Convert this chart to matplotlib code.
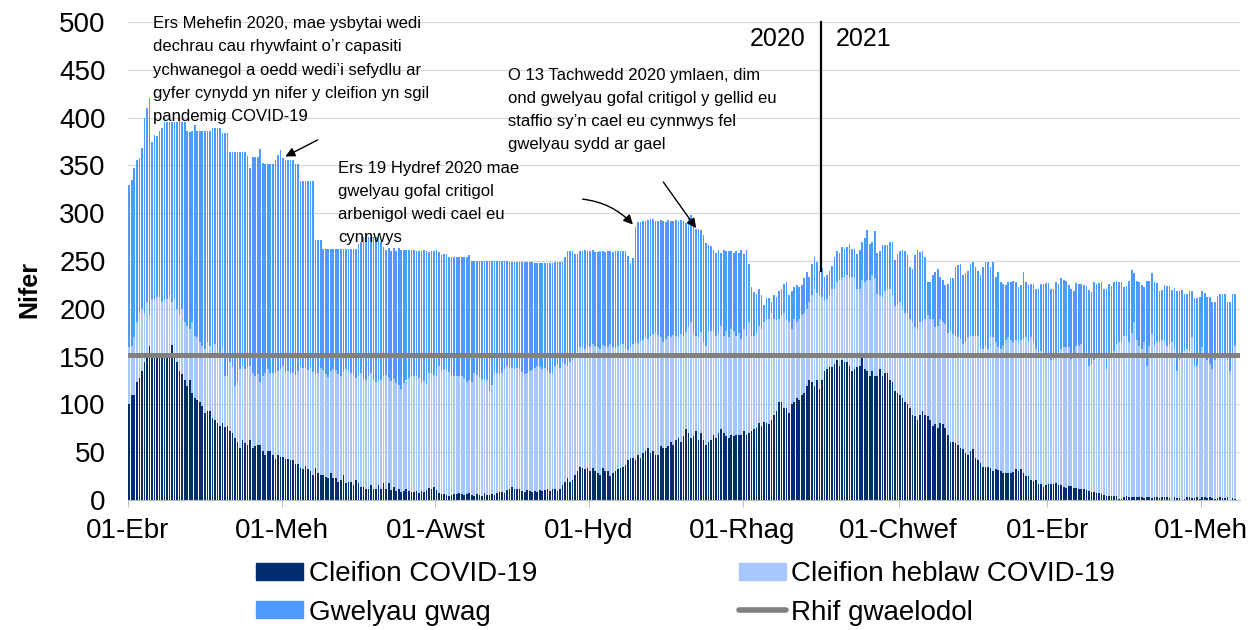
import numpy as np
import pandas as pd
import matplotlib
matplotlib.use("Agg")
import matplotlib.pyplot as plt
from matplotlib.lines import Line2D
from matplotlib.patches import Patch

plt.rcParams['font.family'] = ['Liberation Sans', 'DejaVu Sans']

# Daily values from 1 April 2020

# Cleifion COVID-19
covid = [
    100, 110, 110, 123, 128, 135, 144, 151, 161, 151, 152, 151, 151, 151, 151, 150, 154, 162, 151, 144,
    135, 132, 126, 119, 126, 112, 107, 105, 102, 98, 91, 93, 93, 86, 84, 81, 77, 81, 76, 77,
    72, 70, 65, 61, 54, 63, 60, 58, 63, 54, 56, 58, 58, 51, 47, 51,
    51, 47, 43, 47, 45, 45, 43, 43, 42, 42, 38, 38, 33, 32, 36, 32, 30, 26, 33, 28,
    26, 26, 24, 23, 28, 23, 23, 19, 21, 26, 18, 19, 19, 16, 21, 18, 14, 14, 12, 12,
    16, 11, 12, 16, 12, 18, 11, 18, 10, 14, 9, 11, 8, 9, 11, 9, 8,
    8, 9, 7, 9, 8, 10, 13, 12, 14, 10, 7, 6, 6, 5, 4, 5, 6, 6, 7, 6,
    5, 6, 7, 5, 4, 6, 5, 4, 7, 5, 5, 6, 5, 7, 8, 8, 7, 10, 12, 14,
    12, 11, 12, 9, 8, 10, 9, 8, 9, 8, 10, 9, 10, 11, 9, 12,
    12, 9, 12, 16, 19, 23, 19, 21, 26, 30, 35, 33, 32, 33, 30, 33, 30, 28, 26, 33,
    30, 30, 25, 28, 30, 32, 33, 35, 37, 42, 44, 44, 42, 47, 44, 49, 51, 54, 49, 51,
    47, 47, 56, 54, 54, 56, 61, 58, 63, 65, 61, 67, 74, 70, 65, 67, 72, 63,
    70, 63, 58, 61, 63, 68, 65, 70, 74, 70, 67, 65, 68, 67, 68, 68, 68, 72, 68, 70,
    72, 74, 75, 81, 77, 82, 81, 79, 84, 89, 93, 102, 103, 96, 96, 91, 100, 102, 107, 105,
    110, 112, 119, 126, 123, 119, 126, 116, 126, 135, 137, 139, 139, 142, 146, 140, 146, 144, 144,
    140, 135, 137, 139, 140, 149, 137, 135, 130, 135, 130, 130, 137, 130, 133, 133, 126, 123, 114, 112,
    110, 107, 103, 100, 96, 89, 88, 84, 89, 93, 89, 88, 84, 77, 79, 75, 81, 79, 75, 68,
    61, 61, 60, 58, 54, 53, 49, 47, 51, 53, 44, 42, 39, 35, 34, 35, 33, 30,
    32, 31, 30, 28, 28, 28, 28, 29, 32, 30, 32, 28, 25, 25, 21, 20, 21, 17, 17, 14,
    16, 17, 17, 17, 18, 16, 16, 14, 13, 15, 15, 13, 13, 12, 11, 12, 10, 9, 8, 8,
    7, 7, 6, 5, 4, 4, 4, 4, 4, 1, 1, 3, 4, 3, 3, 3, 3,
    3, 3, 2, 3, 3, 2, 3, 3, 2, 3, 3, 3, 2, 0, 3, 2, 2, 0, 1, 3,
    3, 2, 2, 3, 1, 3, 3, 2, 3, 2, 1, 2, 3, 2, 2, 3, 0, 2, 1,
]

# Cleifion COVID-19 + Cleifion heblaw COVID-19
occupied = [
    160, 161, 170, 186, 196, 200, 196, 207, 193, 210, 210, 212, 212, 207, 209, 210, 214, 207, 210, 200,
    193, 200, 186, 182, 179, 186, 172, 170, 165, 161, 158, 165, 161, 154, 163, 151, 154, 158, 130, 130,
    144, 139, 119, 123, 137, 140, 137, 139, 140, 133, 130, 132, 123, 130, 133, 137,
    133, 133, 133, 135, 137, 140, 133, 135, 133, 133, 131, 135, 140, 138, 138, 136, 138, 134, 131, 133,
    138, 136, 132, 129, 135, 137, 136, 132, 130, 134, 137, 136, 133, 132, 128, 130, 133, 127, 125, 130,
    133, 126, 123, 124, 126, 130, 131, 128, 124, 127, 122, 120, 116, 122, 125, 128, 130,
    130, 130, 128, 122, 124, 121, 133, 133, 131, 130, 140, 136, 137, 137, 134, 131, 130, 130, 130, 130,
    128, 123, 126, 123, 133, 131, 129, 127, 127, 125, 114, 120, 133, 133, 132, 133, 137, 140, 138, 138,
    137, 138, 137, 134, 132, 133, 135, 136, 138, 140, 139, 137, 138, 136, 133, 133,
    140, 142, 138, 144, 142, 140, 144, 146, 152, 155, 160, 160, 158, 161, 160, 163, 161, 160, 158, 162,
    161, 160, 163, 160, 159, 161, 162, 163, 158, 157, 160, 163, 165, 164, 166, 167, 170, 168, 172, 174,
    175, 173, 170, 165, 168, 172, 171, 173, 172, 170, 174, 172, 176, 181, 186, 175, 172, 170,
    176, 165, 161, 177, 177, 177, 172, 174, 182, 172, 177, 170, 179, 177, 172, 175, 168, 179, 172, 186,
    172, 172, 175, 182, 179, 186, 189, 189, 196, 189, 188, 189, 193, 196, 189, 186, 179, 189, 186, 189,
    193, 196, 200, 207, 214, 221, 217, 214, 212, 209, 210, 214, 221, 221, 228, 230, 232, 233, 235,
    232, 233, 232, 221, 221, 230, 228, 230, 230, 235, 232, 216, 214, 212, 219, 221, 221, 214, 203, 205,
    207, 200, 196, 196, 189, 186, 181, 179, 186, 186, 189, 193, 189, 189, 181, 182, 189, 186, 184, 175,
    177, 174, 172, 170, 168, 163, 165, 170, 172, 172, 172, 172, 159, 158, 161, 158, 170, 170,
    165, 160, 158, 161, 167, 170, 167, 165, 167, 165, 167, 168, 170, 165, 170, 165, 158, 151, 156, 154,
    154, 151, 146, 147, 154, 154, 158, 160, 160, 160, 147, 154, 161, 161, 163, 154, 151, 140, 142, 146,
    151, 152, 154, 151, 137, 151, 154, 156, 163, 165, 165, 172, 172, 165, 175, 186, 167,
    161, 158, 165, 140, 161, 174, 161, 165, 165, 167, 165, 161, 163, 165, 158, 135, 146, 154, 156, 158,
    156, 170, 140, 140, 154, 160, 154, 146, 142, 137, 146, 154, 151, 154, 151, 146, 135, 151, 161,
]

# Total beds available (occupied + Gwelyau gwag)
available = [
    330, 335, 347, 356, 358, 368, 400, 410, 421, 374, 382, 381, 386, 389, 395, 395, 395, 395, 395, 395,
    403, 395, 395, 386, 385, 386, 392, 386, 386, 386, 386, 386, 386, 389, 389, 389, 389, 384, 384, 384,
    364, 364, 364, 364, 364, 364, 364, 360, 347, 359, 359, 359, 367, 353, 351, 351,
    351, 351, 356, 361, 366, 358, 356, 356, 356, 356, 351, 351, 334, 334, 334, 334, 334, 334, 272, 272,
    272, 263, 263, 263, 263, 263, 263, 263, 263, 263, 263, 263, 263, 263, 263, 268, 270, 275, 275, 275,
    275, 275, 275, 275, 270, 265, 261, 264, 260, 264, 260, 264, 262, 262, 262, 262, 262,
    262, 260, 260, 260, 261, 260, 259, 260, 260, 261, 259, 256, 257, 257, 254, 254, 254, 254, 254, 254,
    254, 254, 256, 250, 250, 250, 250, 250, 250, 250, 250, 250, 250, 250, 250, 250, 250, 250, 249, 249,
    249, 249, 249, 249, 249, 249, 249, 249, 248, 248, 248, 248, 248, 248, 248, 248,
    249, 249, 249, 249, 254, 260, 260, 260, 257, 257, 260, 260, 261, 260, 260, 261, 259, 259, 260, 260,
    259, 260, 260, 259, 260, 260, 260, 260, 260, 255, 248, 253, 286, 291, 291, 292, 292, 293, 294, 294,
    292, 292, 293, 292, 291, 293, 292, 292, 293, 292, 293, 292, 290, 295, 298, 291, 283, 283,
    282, 277, 269, 267, 266, 262, 258, 262, 258, 262, 260, 260, 260, 258, 260, 258, 261, 257, 261, 247,
    223, 218, 216, 221, 214, 204, 211, 211, 207, 214, 212, 219, 221, 226, 228, 214, 219, 223, 225, 223,
    225, 232, 238, 233, 247, 254, 249, 240, 243, 233, 235, 240, 245, 254, 260, 258, 265, 263, 265,
    268, 263, 263, 257, 262, 270, 274, 282, 268, 270, 281, 258, 260, 267, 267, 267, 270, 270, 251, 257,
    260, 262, 260, 256, 244, 242, 256, 262, 259, 260, 254, 228, 228, 235, 239, 242, 233, 230, 225, 226,
    232, 232, 244, 246, 247, 235, 237, 240, 247, 249, 244, 240, 235, 244, 249, 249, 244, 249,
    233, 238, 228, 226, 225, 228, 228, 229, 228, 223, 225, 239, 228, 225, 226, 226, 221, 221, 226, 226,
    227, 227, 221, 221, 228, 226, 232, 230, 229, 225, 221, 219, 227, 226, 226, 225, 224, 220, 218, 228,
    226, 227, 228, 221, 221, 226, 224, 228, 229, 228, 228, 223, 224, 229, 241, 237, 229,
    228, 225, 223, 229, 229, 237, 228, 227, 219, 220, 225, 224, 224, 220, 222, 219, 219, 220, 215, 215,
    219, 219, 211, 211, 212, 219, 217, 212, 212, 207, 207, 213, 215, 215, 216, 207, 207, 215, 215,
]

baseline = 152  # Rhif gwaelodol

start_date = "2020-04-01"
tick_dates = ["2020-04-01", "2020-06-01", "2020-08-01", "2020-10-01",
              "2020-12-01", "2021-02-01", "2021-04-01", "2021-06-01"]
tick_labels = ["01-Ebr", "01-Meh", "01-Awst", "01-Hyd",
               "01-Rhag", "01-Chwef", "01-Ebr", "01-Meh"]
year_split = "2021-01-01"

c_covid = "#002d6e"
c_other = "#a6c8ff"
c_empty = "#4d9bff"
c_base = "#808080"

covid = np.array(covid)
occupied = np.array(occupied)
available = np.array(available)
non_covid = occupied - covid
empty = available - occupied

start = pd.Timestamp(start_date)
x = np.arange(len(covid))
tick_pos = [(pd.Timestamp(t) - start).days - 0.5 for t in tick_dates]
split_pos = (pd.Timestamp(year_split) - start).days - 0.5

fig = plt.figure(figsize=(12.54, 6.30), dpi=100)
ax = fig.add_axes([128 / 1254, 1 - 500 / 630, 1112 / 1254, 478 / 630])

w = 0.66
ax.bar(x, covid, width=w, color=c_covid, linewidth=0)
ax.bar(x, non_covid, width=w, bottom=covid, color=c_other, linewidth=0)
ax.bar(x, empty, width=w, bottom=occupied, color=c_empty, linewidth=0)
ax.axhline(baseline, color=c_base, lw=3.6, zorder=3)

ax.set_xlim(-0.5, 441)
ax.set_ylim(0, 500)
ax.set_yticks(np.arange(0, 501, 50))
ax.grid(axis="y", color="#d9d9d9", lw=0.9)
ax.set_axisbelow(True)
for s in ["top", "right", "left"]:
    ax.spines[s].set_visible(False)
ax.spines["bottom"].set_color("#bfbfbf")

ax.set_xticks(tick_pos)
ax.set_xticklabels(tick_labels)
ax.tick_params(axis="x", length=5, color="#bfbfbf", pad=8, labelsize=20)
ax.tick_params(axis="y", length=0, pad=16, labelsize=20)

ax.set_ylabel("Nifer", fontsize=18, fontweight="bold")
ax.yaxis.set_label_coords(-0.078, 0.44)

# year divider
ax.plot([split_pos, split_pos], [240, 500], color="black", lw=1.6, clip_on=False)
ax.text(split_pos - 6, 482, "2020", ha="right", va="center", fontsize=18)
ax.text(split_pos + 6, 482, "2021", ha="left", va="center", fontsize=18)

# notes
note_kw = dict(fontsize=12, linespacing=1.68, va="top", ha="left")
arrow_kw = dict(arrowstyle="-|>", color="black", lw=1, mutation_scale=14)

ax.text(9.4, 506, "Ers Mehefin 2020, mae ysbytai wedi\n"
        "dechrau cau rhywfaint o’r capasiti\n"
        "ychwanegol a oedd wedi’i sefydlu ar\n"
        "gyfer cynydd yn nifer y cleifion yn sgil\n"
        "pandemig COVID-19", **note_kw)
ax.annotate("", xy=(61, 358), xytext=(75.8, 378), arrowprops=arrow_kw,
            annotation_clip=False)

ax.text(82.8, 355, "Ers 19 Hydref 2020 mae\n"
        "gwelyau gofal critigol\n"
        "arbenigol wedi cael eu\n"
        "cynnwys", **note_kw)
ax.annotate("", xy=(200.7, 286), xytext=(178.9, 315),
            arrowprops=dict(connectionstyle="arc3,rad=-0.2", **arrow_kw))

ax.text(150.3, 452, "O 13 Tachwedd 2020 ymlaen, dim\n"
        "ond gwelyau gofal critigol y gellid eu\n"
        "staffio sy’n cael eu cynnwys fel\n"
        "gwelyau sydd ar gael", **note_kw)
ax.annotate("", xy=(225.7, 282), xytext=(211.4, 335), arrowprops=arrow_kw)

handles = [
    Patch(color=c_covid, label="Cleifion COVID-19"),
    Patch(color=c_empty, label="Gwelyau gwag"),
    Patch(color=c_other, label="Cleifion heblaw COVID-19"),
    Line2D([0], [0], color=c_base, lw=4, solid_capstyle="round", label="Rhif gwaelodol"),
]
fig.legend(handles=handles, ncol=2, loc="upper left",
           bbox_to_anchor=(256 / 1254, 1 - 561 / 630), frameon=False,
           fontsize=20, handlelength=1.7, handleheight=0.55, handletextpad=0.2,
           columnspacing=7.25, labelspacing=0.45, borderpad=0, borderaxespad=0)

fig.savefig("out.png", dpi=100)
